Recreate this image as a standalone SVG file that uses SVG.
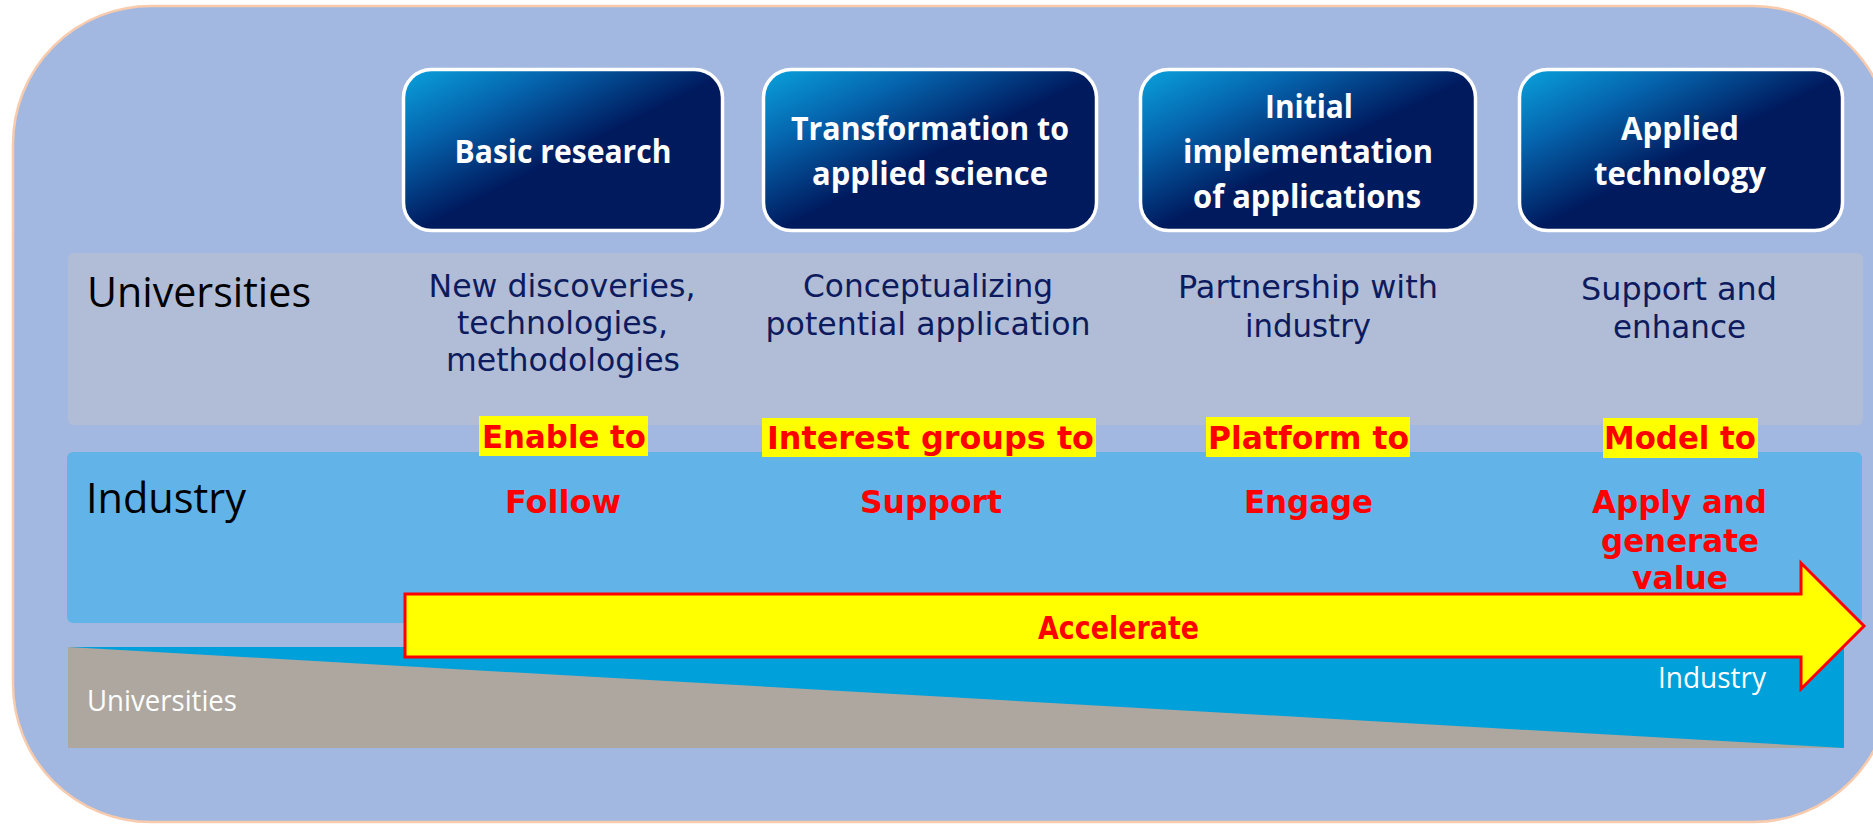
<svg xmlns="http://www.w3.org/2000/svg" width="1873" height="824" viewBox="0 0 1873 824">
<defs>
<linearGradient id="boxGrad" x1="0" y1="0" x2="1" y2="1">
<stop offset="0" stop-color="#0AA2DD"/>
<stop offset="0.24" stop-color="#0565AE"/>
<stop offset="0.52" stop-color="#001A5E"/>
<stop offset="1" stop-color="#001A5E"/>
</linearGradient>
<style>
.box rect{fill:url(#boxGrad);stroke:#FFFFFF;stroke-width:3.5}
.box text{font-family:"Open Sans","Noto Sans",sans-serif;font-weight:bold;font-size:33px;fill:#FFFFFF;text-anchor:middle}
.lbl{font-family:"Open Sans","Noto Sans",sans-serif;font-size:42px;fill:#000000}
.wlbl{font-family:"Open Sans","Noto Sans",sans-serif;font-size:29px;fill:#FFFFFF}
.navy{font-family:"DejaVu Sans",Verdana,sans-serif;font-size:32px;fill:#0D1B5E;text-anchor:middle}
.red{font-family:"DejaVu Sans",Verdana,sans-serif;font-weight:bold;font-size:32px;fill:#FF0000;text-anchor:middle}
.hl{fill:#FFFF00}
</style>
</defs>

<g id="background">
<rect x="13" y="6" width="1878" height="816" rx="138" ry="138" fill="#A2B8E0" stroke="#F8CBAD" stroke-width="2.5"/>
</g>

<g id="band-universities">
<rect x="68" y="253" width="1795" height="172" rx="6" fill="#B1BDD6"/>
<text class="lbl" x="87" y="307" textLength="224" lengthAdjust="spacingAndGlyphs">Universities</text>
</g>

<g id="band-industry">
<rect x="67" y="452" width="1795" height="171" rx="6" fill="#62B3E8"/>
<text class="lbl" x="86" y="513" textLength="160" lengthAdjust="spacingAndGlyphs">Industry</text>
</g>

<g id="share-wedge">
<rect x="68" y="647" width="1776" height="101" fill="#ADA79F"/>
<polygon points="68,647 1844,647 1844,748" fill="#00A0DA"/>
<text class="wlbl" x="87" y="711" textLength="150" lengthAdjust="spacingAndGlyphs">Universities</text>
<text class="wlbl" x="1658" y="688" textLength="108" lengthAdjust="spacingAndGlyphs">Industry</text>
</g>

<g id="stage-basic-research" class="box">
<rect x="403.5" y="69.5" width="319" height="161" rx="28"/>
<text x="563" y="163" textLength="217" lengthAdjust="spacingAndGlyphs">Basic research</text>
</g>
<g id="stage-transformation" class="box">
<rect x="763.5" y="69.5" width="333" height="161" rx="28"/>
<text x="930" y="140" textLength="278" lengthAdjust="spacingAndGlyphs">Transformation to</text>
<text x="930" y="185" textLength="236" lengthAdjust="spacingAndGlyphs">applied science</text>
</g>
<g id="stage-initial-implementation" class="box">
<rect x="1140.5" y="69.5" width="335" height="161" rx="28"/>
<text x="1309" y="118" textLength="88" lengthAdjust="spacingAndGlyphs">Initial</text>
<text x="1308" y="163" textLength="250" lengthAdjust="spacingAndGlyphs">implementation</text>
<text x="1307" y="208" textLength="228" lengthAdjust="spacingAndGlyphs">of applications</text>
</g>
<g id="stage-applied-technology" class="box">
<rect x="1519.5" y="69.5" width="323" height="161" rx="28"/>
<text x="1680" y="140" textLength="118" lengthAdjust="spacingAndGlyphs">Applied</text>
<text x="1680" y="185" textLength="172" lengthAdjust="spacingAndGlyphs">technology</text>
</g>

<g id="universities-roles">
<text class="navy" x="562" y="297" textLength="267" lengthAdjust="spacingAndGlyphs">New discoveries,</text>
<text class="navy" x="562.5" y="334" textLength="211" lengthAdjust="spacingAndGlyphs">technologies,</text>
<text class="navy" x="563" y="371" textLength="234" lengthAdjust="spacingAndGlyphs">methodologies</text>
<text class="navy" x="928" y="297" textLength="250" lengthAdjust="spacingAndGlyphs">Conceptualizing</text>
<text class="navy" x="928" y="335" textLength="325" lengthAdjust="spacingAndGlyphs">potential application</text>
<text class="navy" x="1308" y="298" textLength="260" lengthAdjust="spacingAndGlyphs">Partnership with</text>
<text class="navy" x="1308" y="337" textLength="126" lengthAdjust="spacingAndGlyphs">industry</text>
<text class="navy" x="1679" y="300" textLength="196" lengthAdjust="spacingAndGlyphs">Support and</text>
<text class="navy" x="1679.5" y="338" textLength="133" lengthAdjust="spacingAndGlyphs">enhance</text>
</g>

<g id="highlight-labels">
<rect class="hl" x="479" y="416" width="169" height="40"/>
<text class="red" x="564" y="448" textLength="164" lengthAdjust="spacingAndGlyphs">Enable to</text>
<rect class="hl" x="762" y="418" width="334" height="39"/>
<text class="red" x="930.5" y="449" textLength="327" lengthAdjust="spacingAndGlyphs">Interest groups to</text>
<rect class="hl" x="1206" y="417" width="204" height="40"/>
<text class="red" x="1308.5" y="449" textLength="201" lengthAdjust="spacingAndGlyphs">Platform to</text>
<rect class="hl" x="1603" y="418" width="155" height="40"/>
<text class="red" x="1680" y="449" textLength="152" lengthAdjust="spacingAndGlyphs">Model to</text>
</g>

<g id="industry-roles">
<text class="red" x="563" y="513" textLength="116" lengthAdjust="spacingAndGlyphs">Follow</text>
<text class="red" x="931" y="513" textLength="142" lengthAdjust="spacingAndGlyphs">Support</text>
<text class="red" x="1308.5" y="513" textLength="129" lengthAdjust="spacingAndGlyphs">Engage</text>
<text class="red" x="1679.5" y="513" textLength="175" lengthAdjust="spacingAndGlyphs">Apply and</text>
<text class="red" x="1680" y="552" textLength="158" lengthAdjust="spacingAndGlyphs">generate</text>
<text class="red" x="1680" y="589" textLength="96" lengthAdjust="spacingAndGlyphs">value</text>
</g>

<g id="connectors">
<g id="accelerate-arrow">
<polygon points="405,594 1801,594 1801,563 1864,626 1801,689 1801,657 405,657" fill="#FFFF00" stroke="#FF0000" stroke-width="3" stroke-linejoin="miter"/>
<text class="red" x="1118.5" y="639" textLength="161" lengthAdjust="spacingAndGlyphs">Accelerate</text>
</g>
</g>
</svg>
